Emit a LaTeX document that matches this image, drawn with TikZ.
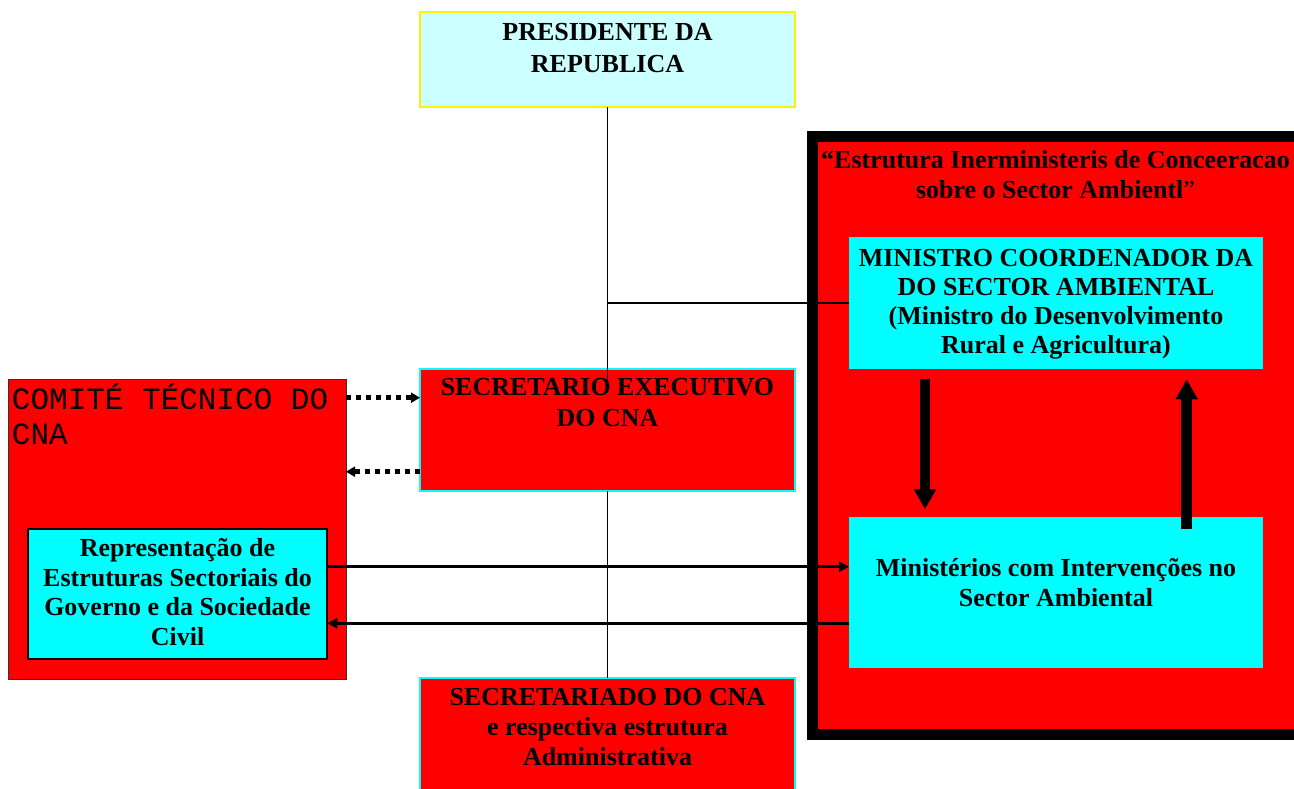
\documentclass[tikz,border=0pt]{standalone}
\usepackage{fontspec}
\setmainfont{Liberation Serif}
\setmonofont{Liberation Mono}
\usetikzlibrary{positioning,arrows.meta}
\definecolor{boxred}{HTML}{FF0000}
\definecolor{boxcyan}{HTML}{00FFFF}
\definecolor{palecyan}{HTML}{CCFFFF}
\definecolor{edgegray}{HTML}{333333}
\newcommand{\boxtext}[4]{\parbox[c][#1][t]{#2}{\centering\rule{0pt}{#3}#4\par}}
\tikzstyle{block} = [rectangle, inner sep=0pt, outer sep=0pt,
    font=\bfseries\fontsize{26}{31}\selectfont]
\tikzstyle{redblock} = [block, fill=boxred, draw=boxcyan, line width=2pt]
\tikzstyle{cyanblock} = [block, fill=boxcyan]
\tikzstyle{line} = [draw, line width=1.5pt]
\tikzstyle{dotline} = [draw, line width=4.5pt, dash pattern=on 5pt off 5pt,
    -{Triangle[length=9pt,width=10pt]}]
\tikzstyle{bigline} = [draw, line width=3.3pt, -{Triangle[length=10pt,width=10pt]}]
\tikzstyle{fatline} = [draw, line width=10.7pt, -{Triangle[length=20pt,width=21pt]}]

\begin{document}
\begin{tikzpicture}[x=1pt, y=-1pt]
		\useasboundingbox (0,0) rectangle (1294,788);
		\clip (0,0) rectangle (1294,788);
		\node [rectangle, draw, fill=boxred, line width=11pt, inner sep=0pt, outer sep=0pt,
			minimum width=497.5pt, minimum height=598pt, anchor=north west] (frame) at (812.5,136.5) {};
		\node [block, fill=palecyan, draw=yellow, line width=2pt, anchor=north west,
			font=\bfseries\fontsize{26}{32.7}\selectfont] (pres) at (420,12)
			{\boxtext{95pt}{375pt}{28pt}{PRESIDENTE DA\\REPUBLICA}};
		\node [redblock, below=262pt of pres] (sec)
			{\boxtext{122pt}{375pt}{26.7pt}{SECRETARIO EXECUTIVO\\DO CNA}};
		\node [redblock, below=187pt of sec, font=\bfseries\fontsize{26}{30}\selectfont] (secad)
			{\boxtext{122pt}{375pt}{27.7pt}{SECRETARIADO DO CNA\\e respectiva estrutura\\Administrativa}};
		\node [rectangle, fill=boxred, draw=edgegray, line width=1pt, inner xsep=4pt, inner ysep=0pt,
			outer sep=0pt, anchor=north west, font=\ttfamily\fontsize{31}{35}\selectfont] (com) at (8,379)
			{\parbox[c][300pt][t]{330pt}{\raggedright\rule{0pt}{30.3pt}COMITÉ TÉCNICO DO\\CNA\par}};
		\node [cyanblock, draw=black, line width=2pt, anchor=north west,
			font=\bfseries\fontsize{26}{29.5}\selectfont] (rep) at (27.7,529.3)
			{\boxtext{129.7pt}{299.6pt}{27.4pt}{Representação de\\Estruturas Sectoriais do\\Governo e da Sociedade\\Civil}};
		\node [cyanblock, anchor=north west, font=\bfseries\fontsize{26}{29}\selectfont] (min) at (849,237)
			{\boxtext{132pt}{414pt}{29.7pt}{MINISTRO COORDENADOR DA\\DO SECTOR AMBIENTAL\\(Ministro do Desenvolvimento\\Rural e Agricultura)}};
		\node [cyanblock, below=148pt of min, font=\bfseries\fontsize{26}{30.7}\selectfont] (mins)
			{\boxtext{151pt}{414pt}{59pt}{Ministérios com Intervenções no\\Sector Ambiental}};
		\node [block, anchor=north, font=\bfseries\fontsize{26}{30}\selectfont] (title) at (1055.5,142)
			{\parbox[t]{480pt}{\centering\rule{0pt}{26.3pt}“Estrutura Inerministeris de Conceeracao\\sobre o Sector Ambientl{\mdseries ”}\par}};

		\coordinate (dotA) at ([yshift=-28.7pt]sec.north west);
		\coordinate (dotB) at ([yshift=-102.7pt]sec.north west);
		\coordinate (armA) at ([yshift=-37.4pt]rep.north east);
		\coordinate (armB) at ([yshift=-94pt]rep.north east);
		\coordinate (downA) at ([xshift=76pt,yshift=-10pt]min.south west);
		\coordinate (downB) at ([xshift=76pt,yshift=7.7pt]mins.north west);
		\coordinate (upA) at ([xshift=337.7pt,yshift=-12pt]mins.north west);
		\coordinate (upB) at ([xshift=337.7pt,yshift=-10.3pt]min.south west);

		\path [line] (pres.south) -- ([yshift=-11pt]sec.north);
		\path [line] (min.west -| pres.south) -- (min.west);
		\path [line] (sec.south) -- (secad.north);
		\path [dotline] (com.east |- dotA) -- (dotA);
		\path [dotline] (dotB) -- (com.east |- dotB);
		\path [bigline] (armA) -- (armA -| mins.west);
		\path [bigline] (armB -| mins.west) -- (armB);
		\path [fatline] (downA) -- (downB);
		\path [fatline] (upA) -- (upB);
	\end{tikzpicture}
\end{document}
